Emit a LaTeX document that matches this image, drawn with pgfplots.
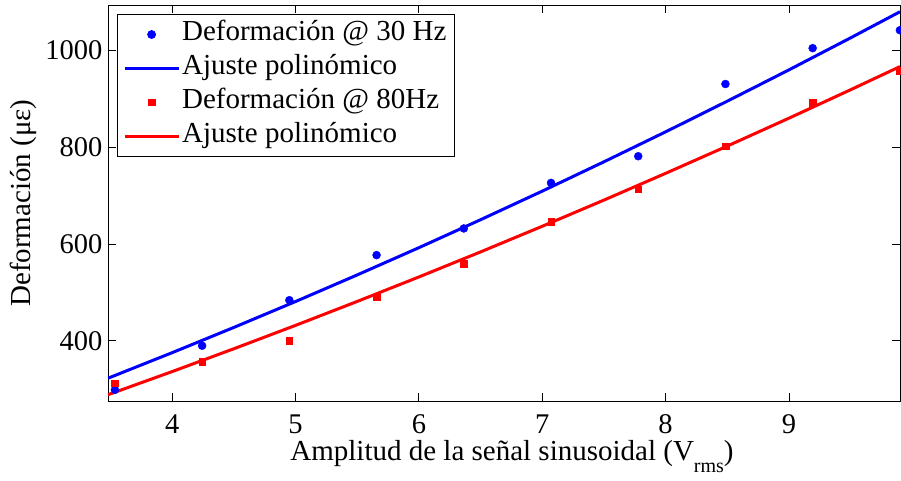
\documentclass[border=0pt]{standalone}
\usepackage{pgfplots}
\pgfplotsset{compat=1.18}
\usepackage{fontspec}
\setmainfont{Liberation Serif}
\definecolor{mblue}{RGB}{0,0,255}
\definecolor{mred}{RGB}{255,0,0}
\begin{document}
\fontsize{29}{32}\selectfont
\begin{tikzpicture}
\begin{axis}[
  at={(0,0)}, anchor=south west,
  scale only axis, width=792pt, height=396pt,
  xmin=3.48, xmax=9.9, ymin=276, ymax=1093,
  xtick={4,5,6,7,8,9}, ytick={400,600,800,1000},
  tick align=inside, major tick length=8pt,
  axis line style={line width=0.9pt},
  every tick/.style={black, line width=0.9pt},
  /pgf/number format/assume math mode=true,
  /pgf/number format/1000 sep={},
  ticklabel style={font=\fontsize{28.5}{28.5}\selectfont},
  xticklabel style={inner sep=0pt, anchor=north, yshift=-14pt, text height=18pt, text depth=0pt},
  yticklabel style={inner sep=0pt, anchor=east, xshift=-5.5pt},
  xlabel={Amplitud de la señal sinusoidal (V\raisebox{-12pt}{\fontsize{20}{20}\selectfont rms})},
  ylabel={Deformación (με)},
  xlabel style={at={(axis description cs:0.5,0)}, anchor=base, yshift=-59pt, xshift=8pt, inner sep=0pt, text height=19pt, text depth=16pt, font=\fontsize{29}{29}\selectfont},
  ylabel style={at={(axis description cs:-0.1237,0.5)}, anchor=north, inner sep=0pt, font=\fontsize{29}{29}\selectfont},
  legend cell align=left,
  legend image code/.code={\draw[mark repeat=2,mark phase=2,#1] plot coordinates {(0pt,0pt) (27pt,0pt) (54pt,0pt)};},
  legend style={at={(axis description cs:0.011,0.977)}, anchor=north west, draw=black, line width=0.8pt,
    font=\fontsize{29}{29}\selectfont, inner xsep=6pt, inner ysep=3pt,
    nodes={inner sep=2pt, text height=21pt, text depth=9pt}},
]
\addplot[only marks, mark=*, mark size=4pt, color=mblue] coordinates {
(3.536,299) (4.243,390) (4.950,484) (5.657,577) (6.364,632) (7.071,726) (7.778,781) (8.485,930) (9.192,1004) (9.899,1041)};
\addlegendentry{Deformación @ 30 Hz}
\addplot[color=mblue, line width=3pt, mark=none] coordinates {
(3.48,323.0) (4.0,375.7) (4.5,427.8) (5.0,481.2) (5.5,536.1) (6.0,592.3) (6.5,650.0) (7.0,709.0) (7.5,769.5) (8.0,831.3) (8.5,894.6) (9.0,959.2) (9.5,1025.3) (9.9,1079.1)};
\addlegendentry{Ajuste polinómico}
\addplot[only marks, mark=square*, mark size=3.3pt, color=mred] coordinates {
(3.536,313) (4.243,357) (4.950,401) (5.657,490) (6.364,559) (7.071,646) (7.778,713) (8.485,802) (9.192,891) (9.899,957)};
\addlegendentry{Deformación @ 80Hz}
\addplot[color=mred, line width=3pt, mark=none] coordinates {
(3.48,289.0) (4.0,336.7) (4.5,383.8) (5.0,432.0) (5.5,481.4) (6.0,531.9) (6.5,583.6) (7.0,636.5) (7.5,690.5) (8.0,745.7) (8.5,802.0) (9.0,859.5) (9.5,918.2) (9.9,966.0)};
\addlegendentry{Ajuste polinómico}
\end{axis}
\pgfresetboundingbox
\path[use as bounding box] (-108pt,-79pt) rectangle (793pt,401pt);
\end{tikzpicture}
\end{document}
